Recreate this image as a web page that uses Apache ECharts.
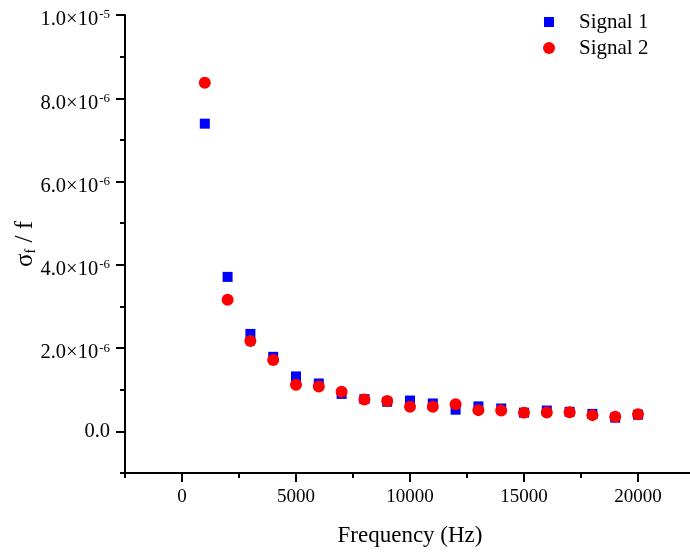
<!DOCTYPE html>
<html><head><meta charset="utf-8">
<script src="https://cdn.jsdelivr.net/npm/echarts@6/dist/echarts.min.js"></script>
<style>html,body{margin:0;padding:0;background:#fff}#c{width:690px;height:552px}</style>
</head><body><div id="c"></div>
<script>
const frequencies = [1000,2000,3000,4000,5000,6000,7000,8000,9000,10000,11000,12000,13000,14000,15000,16000,17000,18000,19000,20000];
const signal1 = [7.39e-6,3.71e-6,2.34e-6,1.79e-6,1.32e-6,1.15e-6,0.90e-6,0.775e-6,0.71e-6,0.74e-6,0.67e-6,0.52e-6,0.60e-6,0.55e-6,0.45e-6,0.50e-6,0.47e-6,0.42e-6,0.33e-6,0.40e-6];
const signal2 = [8.37e-6,3.16e-6,2.17e-6,1.715e-6,1.12e-6,1.08e-6,0.95e-6,0.765e-6,0.73e-6,0.59e-6,0.59e-6,0.65e-6,0.51e-6,0.50e-6,0.45e-6,0.455e-6,0.46e-6,0.39e-6,0.35e-6,0.41e-6];
const seriesNames = ['Signal 1','Signal 2'];
const xMajorTicks = [0,5000,10000,15000,20000];
const xTickLabels = ['0','5000','10000','15000','20000'];
const yMajorTicks = [0,2e-6,4e-6,6e-6,8e-6,1e-5];
const yTickMantissa = ['0.0','2.0','4.0','6.0','8.0','1.0'];
const yTickExponent = ['','-6','-6','-6','-6','-5'];
const xTitle = 'Frequency (Hz)';

const FONT = '"Liberation Serif","Times New Roman",serif';
const chart = echarts.init(document.getElementById('c'), null, {renderer:'canvas'});

function yLabel(v){
  for (let i=0;i<yMajorTicks.length;i++){
    if (Math.abs(v - yMajorTicks[i]) < 1e-9){
      return yTickExponent[i] ? '{m|' + yTickMantissa[i] + '×10}{e|' + yTickExponent[i] + '}' : '{z|' + yTickMantissa[i] + '}';
    }
  }
  return '';
}
function xLabel(v){
  const i = xMajorTicks.indexOf(Math.round(v));
  return i >= 0 ? xTickLabels[i] : '';
}

const lineStyle = {color:'#000', width:2};
const option = {
  backgroundColor:'#fff',
  animation:false,
  grid:{left:125, right:-5, top:15, bottom:79, containLabel:false, outerBoundsMode:'none'},
  legend:[
    {data:[seriesNames[0]], orient:'vertical', left:544, top:11.5, padding:0, itemWidth:10, itemHeight:10,
     textStyle:{fontFamily:FONT, fontSize:21, color:'#000', padding:[0,0,0,20]}},
    {data:[seriesNames[1]], orient:'vertical', left:543, top:37.5, padding:0, itemWidth:12, itemHeight:12,
     textStyle:{fontFamily:FONT, fontSize:21, color:'#000', padding:[0,0,0,19]}}
  ],
  xAxis:[
    {type:'value', min:-2500, max:22500, interval:2500, position:'bottom',
     axisLine:{show:true, onZero:false, lineStyle}, axisTick:{show:true, length:5, lineStyle},
     axisLabel:{show:false}, splitLine:{show:false}},
    {type:'value', min:-2500, max:22500, position:'bottom',
     name:xTitle, nameLocation:'middle', nameGap:51, nameMoveOverlap:false,
     nameTextStyle:{fontFamily:FONT, fontSize:23, color:'#000', verticalAlign:'top'},
     axisLine:{show:false, onZero:false},
     axisTick:{show:true, length:9, lineStyle, customValues:xMajorTicks},
     axisLabel:{show:true, margin:15, fontFamily:FONT, fontSize:19, color:'#000', customValues:xMajorTicks, formatter:xLabel},
     splitLine:{show:false}}
  ],
  yAxis:[
    {type:'value', min:-1e-6, max:1e-5, interval:1e-6, position:'left',
     axisLine:{show:true, onZero:false, lineStyle}, axisTick:{show:true, length:5, lineStyle},
     axisLabel:{show:false}, splitLine:{show:false}},
    {type:'value', min:-1e-6, max:1e-5, position:'left',
     name:'{s|σ}{b|f}{s| / f}', nameLocation:'middle', nameGap:87, nameMoveOverlap:false,
     nameTextStyle:{fontFamily:FONT, fontSize:25, color:'#000',
       rich:{s:{fontFamily:FONT, fontSize:25, color:'#000'}, b:{fontFamily:FONT, fontSize:14, color:'#000', verticalAlign:'bottom', padding:[9,0,0,0]}}},
     axisLine:{show:false, onZero:false},
     axisTick:{show:true, length:9, lineStyle, customValues:yMajorTicks},
     axisLabel:{show:true, margin:15, customValues:yMajorTicks, formatter:yLabel,
       rich:{
         m:{fontFamily:FONT, fontSize:20.5, color:'#000', lineHeight:21, verticalAlign:'bottom'},
         z:{fontFamily:FONT, fontSize:20.5, color:'#000', lineHeight:21},
         e:{fontFamily:FONT, fontSize:13, color:'#000', lineHeight:31, padding:[0,0,0,1]}}},
     splitLine:{show:false}}
  ],
  series:[
    {name:seriesNames[0], type:'scatter', xAxisIndex:0, yAxisIndex:0, symbol:'rect', symbolSize:10,
     itemStyle:{color:'#0000FF', opacity:1}, data:frequencies.map((f,i)=>[f, signal1[i]])},
    {name:seriesNames[1], type:'scatter', xAxisIndex:0, yAxisIndex:0, symbol:'circle', symbolSize:12,
     itemStyle:{color:'#FF0000', opacity:1}, data:frequencies.map((f,i)=>[f, signal2[i]])}
  ]
};
chart.setOption(option);
</script></body></html>
